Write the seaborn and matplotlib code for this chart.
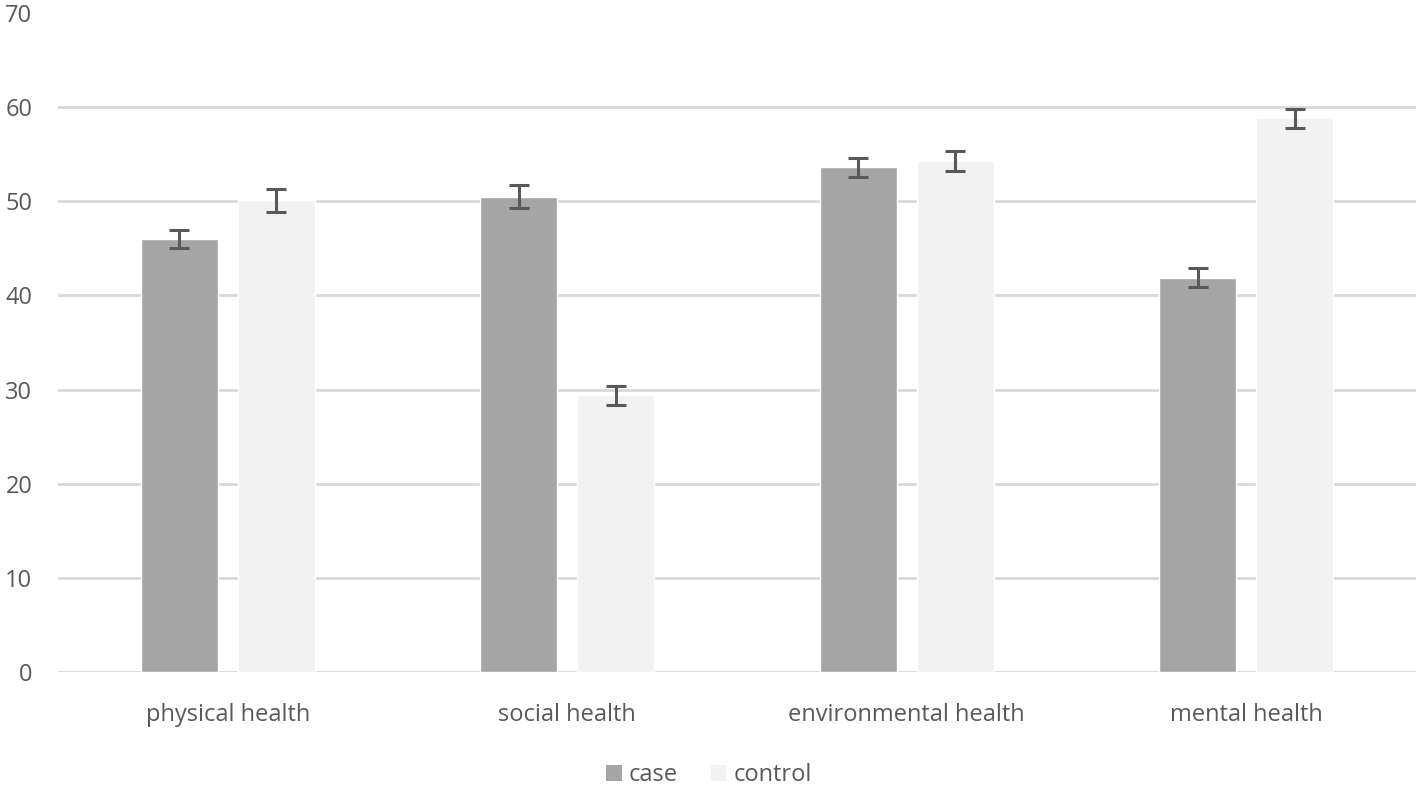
import matplotlib
matplotlib.use("Agg")
import matplotlib.pyplot as plt
import seaborn as sns
import pandas as pd
import numpy as np
from matplotlib.patches import Patch

categories = ["physical health", "social health", "environmental health", "mental health"]
groups = ["case", "control"]
case_values = [46.0, 50.5, 53.6, 41.9]
control_values = [50.1, 29.4, 54.3, 58.8]
case_err = [1.0, 1.2, 1.0, 1.0]
control_err = [1.2, 1.0, 1.05, 1.0]
yticks = [0, 10, 20, 30, 40, 50, 60, 70]

df = pd.DataFrame({
    "category": categories * 2,
    "group": ["case"] * 4 + ["control"] * 4,
    "value": case_values + control_values,
})
errs = {"case": case_err, "control": control_err}

sns.set_theme(style="white")
plt.rcParams["font.family"] = ["Open Sans", "DejaVu Sans"]

fig = plt.figure(figsize=(14.18, 7.87), dpi=100)
ax = fig.add_axes([58 / 1418, 1 - 672 / 787, 1358 / 1418, (672 - 13) / 787])

palette = {"case": "#a5a5a5", "control": "#f2f2f2"}
sns.barplot(data=df, x="category", y="value", hue="group", palette=palette,
            width=0.571, gap=0.205, ax=ax, legend=False, errorbar=None,
            order=categories, hue_order=groups, zorder=3)

for cont, g in zip(ax.containers, groups):
    xs = [b.get_x() + b.get_width() / 2 for b in cont]
    hs = [b.get_height() for b in cont]
    ax.errorbar(xs, hs, yerr=errs[g], fmt="none", ecolor="#595959",
                elinewidth=2.2, capsize=7, capthick=2.2, zorder=4)

ax.set_xlim(-0.5, 3.5)
ax.set_ylim(0, 70)
ax.set_yticks(yticks)
ax.yaxis.grid(True, color="#d9d9d9", linewidth=2, zorder=0)
ax.set_axisbelow(True)
fig.canvas.draw()
ax.yaxis.get_gridlines()[-1].set_visible(False)
for s in ax.spines.values():
    s.set_visible(False)
ax.set_xlabel("")
ax.set_ylabel("")
ax.tick_params(axis="both", length=0, labelsize=17, colors="#595959")
ax.tick_params(axis="x", pad=22)
ax.tick_params(axis="y", pad=18.5)

handles = [Patch(facecolor=palette[g], edgecolor="none", label=g) for g in groups]
fig.legend(handles=handles, loc="center", bbox_to_anchor=(0.5, 1 - 775 / 787),
           ncol=2, frameon=False, fontsize=17, handlelength=0.65, handleheight=0.65,
           handletextpad=0.3, columnspacing=1.4, labelcolor="#595959")

fig.savefig("out.png", dpi=100)
